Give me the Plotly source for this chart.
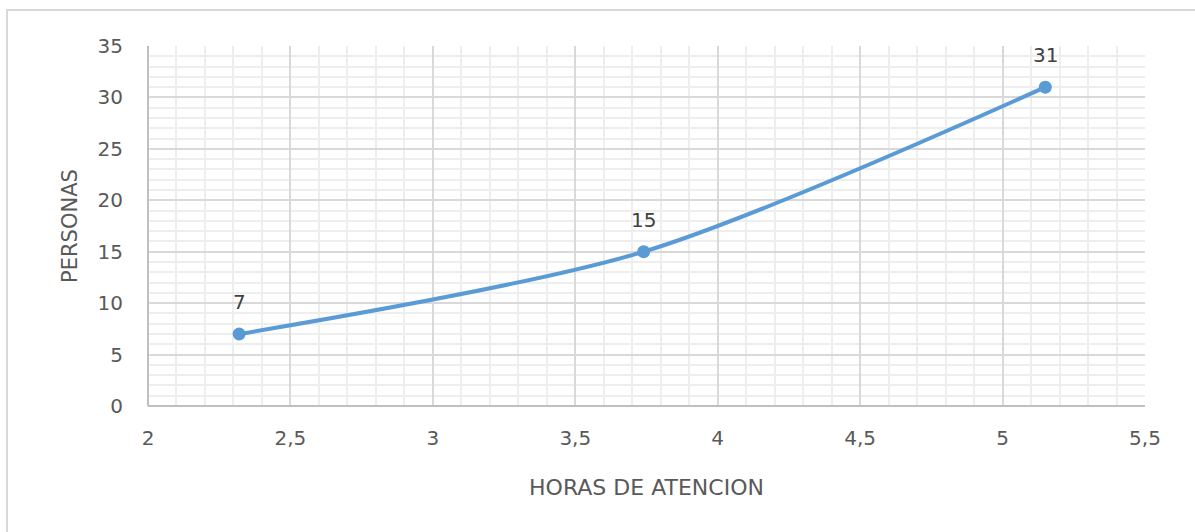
import plotly.graph_objects as go

# Horas de atención vs. personas atendidas
horas = [2.32, 3.74, 5.15]
personas = [7, 15, 31]

x_ticks = [2, 2.5, 3, 3.5, 4, 4.5, 5, 5.5]
x_tick_text = ["2", "2,5", "3", "3,5", "4", "4,5", "5", "5,5"]
y_ticks = [0, 5, 10, 15, 20, 25, 30, 35]

W, H = 1195, 532
L, R, T, B = 148, 50, 46, 126

FONT = "DejaVu Sans"
TXT = "#595959"
BLUE = "#5B9BD5"

fig = go.Figure()

fig.add_trace(go.Scatter(
    x=horas, y=personas,
    mode="lines+markers",
    line=dict(color=BLUE, width=4, shape="spline", smoothing=0.8),
    marker=dict(color=BLUE, size=13),
    showlegend=False,
))

# Data labels above each point
for xv, yv in zip(horas, personas):
    fig.add_annotation(
        x=xv, y=yv, text=str(yv), showarrow=False,
        yshift=32, font=dict(family=FONT, size=20, color="#404040"),
    )

axis_common = dict(
    showline=False,
    zeroline=False,
    ticks="",
    tickfont=dict(family=FONT, size=20, color=TXT),
    gridcolor="#D9D9D9",
    gridwidth=1.5,
    minor=dict(showgrid=True, gridcolor="#EEEEEE", gridwidth=2),
)

fig.update_xaxes(
    range=[2, 5.5],
    tickvals=x_ticks, ticktext=x_tick_text,
    minor_dtick=0.1,
    ticklabelstandoff=18,
    title=dict(text="HORAS DE ATENCION", font=dict(family=FONT, size=22, color=TXT), standoff=30),
    **axis_common,
)
fig.update_yaxes(
    range=[0, 35],
    tickvals=y_ticks,
    minor_dtick=1,
    ticklabelstandoff=24,
    title=dict(text="PERSONAS", font=dict(family=FONT, size=21, color=TXT), standoff=14),
    **axis_common,
)

# Axis lines on the left and bottom edges of the plot area
fig.add_shape(type="line", xref="paper", yref="paper", x0=0, x1=0, y0=0, y1=1,
              line=dict(color="#BFBFBF", width=2))
fig.add_shape(type="line", xref="paper", yref="paper", x0=0, x1=1, y0=0, y1=0,
              line=dict(color="#BFBFBF", width=2))

# Chart frame
pw, ph = W - L - R, H - T - B
fx0 = (7 - L) / pw
fy1 = (H - B - 10) / ph
fx1 = (W + 10 - L) / pw
fy0 = (H - B - H - 10) / ph
fig.add_shape(type="rect", xref="paper", yref="paper", x0=fx0, x1=fx1, y0=fy0, y1=fy1,
              line=dict(color="#D9D9D9", width=2), layer="below")

fig.update_layout(
    width=W, height=H,
    margin=dict(l=L, r=R, t=T, b=B),
    paper_bgcolor="white",
    plot_bgcolor="white",
    font=dict(family=FONT, color=TXT),
)

fig.write_html("out.html")
